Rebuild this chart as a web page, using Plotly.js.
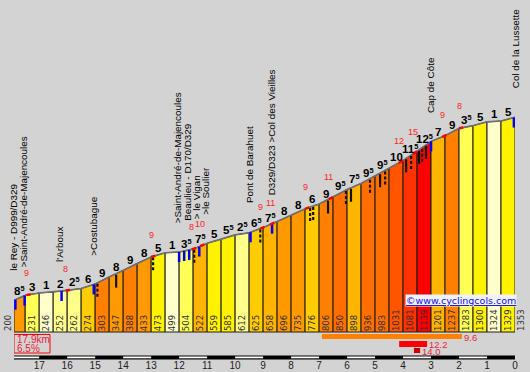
<!DOCTYPE html>
<html><head><meta charset="utf-8">
<script src="https://cdn.plot.ly/plotly-3.0.1.min.js"></script>
<style>html,body{margin:0;padding:0;background:#d3d3d3;}</style>
</head><body><div id="chart" style="width:530px;height:372px;"></div>
<script>
// ---------------- data ----------------
// km remaining to the summit at each profile point, and elevation (m)
const profileKm = [17.9,17.5,17,16.5,16,15.5,15,14.5,14,13.5,13,12.5,12,11.5,11,10.5,10,9.5,9,8.5,8,7.5,7,6.5,6,5.5,5,4.5,4,3.5,3,2.5,2,1.5,1,0.5,0];
const profileElev = [200,231,246,252,262,274,303,347,388,433,473,499,504,522,559,585,612,625,658,696,735,776,806,850,898,936,983,1031,1081,1139,1201,1237,1283,1300,1324,1329,1353];
// gradient (%) of each segment as printed above it
const segGrade = [8.5,3,1,2,2.5,6,9,8,9,8,5,1,3.5,7.5,5,5.5,2.5,6.5,7.5,8,8,6,9,9.5,7.5,9.5,9.5,10,11.5,12.5,7,9,3.5,5,1,5];
const kmTicks = [17,16,15,14,13,12,11,10,9,8,7,6,5,4,3,2,1,0];
// place names
const placeNames = ["le Rey - D999/D329", ">Saint-André-de-Majencoules", "l'Arboux", ">Costubague",
  ">Saint-André-de-Majencoules", "Beaulieu - D170/D329", "> le Vigan", ">le Soulier",
  "Pont de Barahuet", "D329/D323 >Col des Vieilles", "Cap de Côte", "Col de la Lussette"];
const placeKm = [17.9, 17.55, 16.25, 15.07, 12.05, 11.7, 11.38, 11.04, 9.46, 8.71, 3.04, 0];
// steepest short stretches (red marks)
const peakKm = [17.45, 16.05, 13.0, 11.55, 11.25, 9.1, 8.75, 7.5, 6.65, 4.15, 3.65, 2.6, 2.0];
const peakGrade = [9, 8, 9, 8, 10, 9, 11, 9, 11, 12, 15, 9, 8];
// junction markers (blue) and other markers (black)
const blueKm = [17.85, 17.52, 16.2, 15.05, 12.0, 11.82, 11.64, 11.28, 9.45, 8.68, 3.0, 0.04];
const blackSolidKm = [14.25, 6.68, 5.86, 4.82, 3.89, 3.43, 3.18];
const blackDashKm = [14.92, 12.93, 11.46, 9.1, 7.32, 7.21, 6.04, 5.18, 4.64, 3.71, 3.32];
// summary
const totalKm = 17.9;
const avgGrade = 6.5;
const maxFromKm = [6.9, 4.14, 3.61];
const maxToKm = [1.9, 3.14, 3.39];
const maxGrade = [9.6, 12.2, 14.0];

// ---------------- styling / helpers ----------------
const M_PER_PX = 6.3;
const BG = '#d3d3d3';
function gradeColor(g){
  if (g < 1.5) return '#FFFFCC';
  if (g < 2.75) return '#FFFF8A';
  if (g < 4) return '#FFFF55';
  if (g < 5.75) return '#FFF200';
  if (g < 7) return '#FFCC00';
  if (g < 7.75) return '#FFB400';
  if (g < 8.75) return '#FF9900';
  if (g < 9.25) return '#FF8000';
  if (g < 9.75) return '#FF6E00';
  if (g < 10.5) return '#FF5500';
  if (g < 12) return '#FF3300';
  return '#FF0000';
}
function fmtGrade(g){
  const w = Math.floor(g);
  return (g - w > 0.01) ? (w + '<span style="font-size:10.5px"><sup>5</sup></span>') : String(w);
}
function elevAt(k){
  for (let i=0;i<profileKm.length-1;i++){
    const a=profileKm[i], b=profileKm[i+1];
    if (k <= a && k >= b){
      return profileElev[i] + (a-k)/(a-b)*(profileElev[i+1]-profileElev[i]);
    }
  }
  return k > profileKm[0] ? profileElev[0] : profileElev[profileElev.length-1];
}
const px = p => p * M_PER_PX;   // pixel length -> metres

const traces = [];
const annotations = [];
const shapes = [];

// bars (trapezoids)
for (let i=0;i<segGrade.length;i++){
  const k0=profileKm[i], k1=profileKm[i+1], e0=profileElev[i], e1=profileElev[i+1];
  traces.push({type:'scatter', mode:'lines', x:[k0,k0,k1,k1,k0], y:[0,e0,e1,0,0],
    fill:'toself', fillcolor:gradeColor(segGrade[i]), line:{color:'#1c1c1c', width:1},
    hoverinfo:'skip', showlegend:false});
  annotations.push({x:(k0+k1)/2, y:(e0+e1)/2, xref:'x', yref:'y', text:fmtGrade(segGrade[i]),
    showarrow:false, xanchor:'center', yanchor:'bottom', yshift:0, borderpad:0,
    font:{family:'Liberation Sans', size:11.5, color:'#000', weight:'bold'}});
}
// profile outline
traces.push({type:'scatter', mode:'lines', x:profileKm, y:profileElev,
  line:{color:'#707070', width:1.6}, hoverinfo:'skip', showlegend:false});

// markers
function vlines(kms, lenPx, startPx){
  const x=[], y=[];
  kms.forEach(k => { const e=elevAt(k); x.push(k,k,null); y.push(e-px(startPx), e-px(startPx+lenPx), null); });
  return {x, y};
}
let v = vlines(blackSolidKm, 13, 1);
traces.push({type:'scatter', mode:'lines', x:v.x, y:v.y, line:{color:'#111', width:2.2}, hoverinfo:'skip', showlegend:false});
v = vlines(blackDashKm, 13, 1);
traces.push({type:'scatter', mode:'lines', x:v.x, y:v.y, line:{color:'#111', width:2.2, dash:'3px,2px'}, hoverinfo:'skip', showlegend:false});
v = vlines(blueKm, 10, 0);
traces.push({type:'scatter', mode:'lines', x:v.x, y:v.y, line:{color:'#0000FF', width:2.5}, hoverinfo:'skip', showlegend:false});

// red peak marks + labels
peakKm.forEach((k,i) => {
  const k1 = k - 0.15;
  traces.push({type:'scatter', mode:'lines', x:[k,k1], y:[elevAt(k), elevAt(k1)],
    line:{color:'#FF0000', width:2.5}, hoverinfo:'skip', showlegend:false});
  annotations.push({x:k, y:elevAt(k), xref:'x', yref:'y', text:String(peakGrade[i]), showarrow:false,
    xanchor:'center', yanchor:'bottom', yshift:16, borderpad:0,
    font:{family:'Liberation Sans', size:9, color:'#FF1E1E'}});
});

// elevation labels inside bars
for (let i=0;i<profileElev.length;i++){
  let x, xa='center';
  if (i === 0){ x = profileKm[0]; xa='right'; }
  else if (i === profileElev.length-1){ x = profileKm[i]; xa='left'; }
  else { x = (profileKm[i]+profileKm[i+1])/2; }
  annotations.push({x:x, y:0, xref:'x', yref:'y', text:String(profileElev[i]), textangle:-90,
    showarrow:false, xanchor:xa, yanchor:'bottom', yshift:0, borderpad:0,
    font:{family:'DejaVu Sans', size:8.5, color:'#303030'}});
}

// place names
placeNames.forEach((n,i) => {
  annotations.push({x:placeKm[i], y:elevAt(placeKm[i]), xref:'x', yref:'y', text:n, textangle:-90,
    showarrow:false, xanchor:'center', yanchor:'bottom', yshift:28, borderpad:0,
    font:{family:'Liberation Sans', size:9.9, color:'#000'}});
});

// scale bar (alternating km)
const sbEdges = [profileKm[0]].concat(kmTicks);
shapes.push({type:'rect', xref:'x', yref:'y', x0:sbEdges[0], x1:0, y0:-px(27.5), y1:-px(23.5),
  fillcolor:'#000', line:{width:0}});
for (let i=0;i<sbEdges.length-1;i++){
  if (i % 2 === 0){
    shapes.push({type:'rect', xref:'x', yref:'y', x0:sbEdges[i], x1:sbEdges[i+1], y0:-px(26.3), y1:-px(24.5),
      fillcolor:'#fff', line:{width:0}});
  }
}

// max gradient bars
const maxColors = ['#FF8000', '#FF0000', '#D00000'];
const maxRows = [[2, 7], [9, 15], [16, 21]];
maxGrade.forEach((g,i) => {
  shapes.push({type:'rect', xref:'x', yref:'y', x0:maxFromKm[i], x1:maxToKm[i],
    y0:-px(maxRows[i][0]), y1:-px(maxRows[i][1]), fillcolor:maxColors[i], line:{width:0}});
  annotations.push({x:maxToKm[i], y:-px((maxRows[i][0]+maxRows[i][1])/2 + 0.5), xref:'x', yref:'y',
    text:g.toFixed(1), showarrow:false, xanchor:'left', yanchor:'middle', xshift:1, borderpad:0,
    font:{family:'Liberation Sans', size:9.5, color:'#F0203A'}});
});

// summary box
shapes.push({type:'rect', xref:'x', yref:'y', x0:totalKm, x1:totalKm - 36/28, y0:-px(2.5), y1:-px(21),
  fillcolor:'rgba(0,0,0,0)', line:{color:'#FF0000', width:1}});
annotations.push({x:totalKm, y:-px(7.2), xref:'x', yref:'y', xanchor:'left', yanchor:'middle', xshift:2,
  text: totalKm.toFixed(1) + 'km', showarrow:false, borderpad:0,
  font:{family:'Liberation Sans', size:10, color:'#F0203A'}});
annotations.push({x:totalKm, y:-px(16), xref:'x', yref:'y', xanchor:'left', yanchor:'middle', xshift:2,
  text: avgGrade.toFixed(1) + '%', showarrow:false, borderpad:0,
  font:{family:'Liberation Sans', size:10, color:'#F0203A'}});

// watermark
annotations.push({x:0, y:px(32), xref:'x', yref:'y', xanchor:'right', yanchor:'middle', xshift:2,
  text:'<span style="text-decoration:underline">©www.cyclingcols.com</span>', showarrow:false,
  bgcolor:'#F2F2FF', borderpad:0,
  font:{family:'DejaVu Sans', size:9.5, color:'#1010E0'}});

const layout = {
  width:530, height:372,
  margin:{l:14, r:15, t:0, b:12, pad:0},
  paper_bgcolor:BG, plot_bgcolor:BG,
  showlegend:false,
  xaxis:{range:[profileKm[0], 0], showgrid:false, zeroline:false, showline:false,
    tickvals:kmTicks, ticktext:kmTicks.map(String), ticks:'', ticklen:0, ticklabelstandoff:-2,
    tickfont:{family:'Liberation Sans', size:10, color:'#222'}, fixedrange:true},
  yaxis:{range:[-px(28), px(332)], visible:false, showgrid:false, zeroline:false, fixedrange:true},
  shapes:shapes,
  annotations:annotations
};
Plotly.newPlot('chart', traces, layout, {staticPlot:true, displayModeBar:false});
</script>
</body></html>
